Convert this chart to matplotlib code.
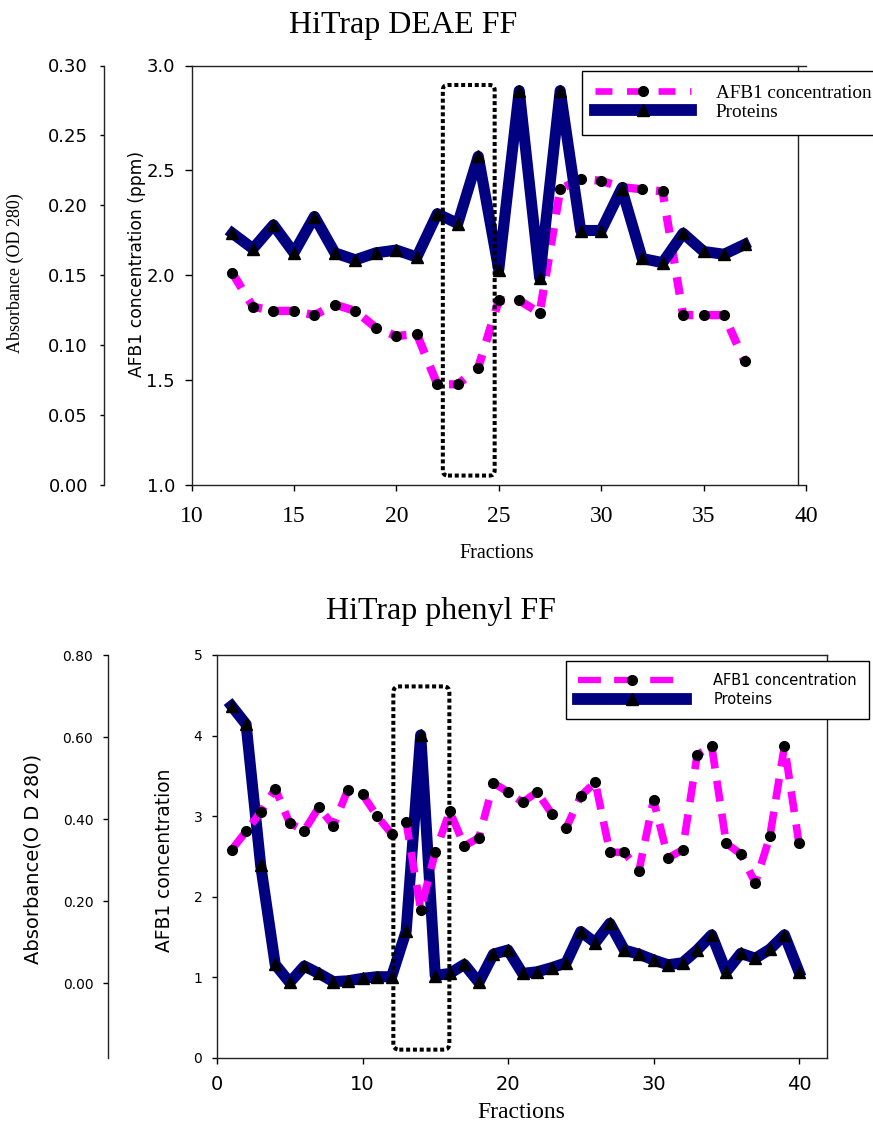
import matplotlib
matplotlib.use("Agg")
import matplotlib.pyplot as plt
from matplotlib.patches import FancyBboxPatch
from matplotlib.lines import Line2D

plt.rcParams['lines.scale_dashes'] = False

W, H = 873, 1126
fig = plt.figure(figsize=(W / 100, H / 100), dpi=100)


def fx(px):
    return px / W


def fy(py):
    return 1 - py / H


SERIF = 'Liberation Serif'
SANS = 'DejaVu Sans'
PINK = '#FF00FF'
NAVY = '#000080'

# ---------------- data ----------------
deae_fractions = list(range(12, 38))
deae_afb1 = [2.01, 1.85, 1.83, 1.83, 1.81, 1.86, 1.83, 1.75, 1.71, 1.72,
             1.48, 1.48, 1.56, 1.88, 1.88, 1.82, 2.41, 2.46, 2.45, 2.42,
             2.41, 2.40, 1.81, 1.81, 1.81, 1.59]
deae_protein = [0.180, 0.169, 0.186, 0.166, 0.192, 0.166, 0.161, 0.166, 0.168,
                0.163, 0.194, 0.187, 0.235, 0.154, 0.282, 0.148, 0.282, 0.182,
                0.182, 0.212, 0.162, 0.159, 0.180, 0.167, 0.165, 0.172]

phenyl_fractions = list(range(1, 41))
phenyl_afb1 = [2.58, 2.81, 3.05, 3.34, 2.91, 2.82, 3.11, 2.88, 3.33, 3.27,
               3.00, 2.78, 2.93, 1.84, 2.55, 3.06, 2.63, 2.73, 3.41, 3.30,
               3.17, 3.30, 3.03, 2.85, 3.25, 3.42, 2.55, 2.55, 2.32, 3.20,
               2.48, 2.58, 3.76, 3.87, 2.66, 2.53, 2.17, 2.75, 3.87, 2.66]
phenyl_protein = [0.676, 0.631, 0.288, 0.046, 0.002, 0.042, 0.024, 0.004, 0.006,
                  0.012, 0.016, 0.016, 0.127, 0.605, 0.019, 0.024, 0.046, 0.002,
                  0.071, 0.081, 0.024, 0.028, 0.038, 0.050, 0.126, 0.099, 0.146,
                  0.081, 0.071, 0.057, 0.045, 0.050, 0.081, 0.118, 0.028, 0.073,
                  0.061, 0.083, 0.118, 0.028]

series_labels = ['AFB1 concentration', 'Proteins']

deae_xticks = [10, 15, 20, 25, 30, 35, 40]
deae_conc_ticks = [1.0, 1.5, 2.0, 2.5, 3.0]
deae_abs_ticks = [0.00, 0.05, 0.10, 0.15, 0.20, 0.25, 0.30]

phenyl_xticks = [0, 10, 20, 30, 40]
phenyl_conc_ticks = [0, 1, 2, 3, 4, 5]
phenyl_abs_ticks = [0.00, 0.20, 0.40, 0.60, 0.80]


def style_axes(ax, axa, abs_offset):
    for s in ('top', 'bottom', 'right'):
        axa.spines[s].set_visible(False)
    axa.spines['left'].set_visible(True)
    axa.spines['left'].set_position(('axes', abs_offset))
    axa.yaxis.set_ticks_position('left')
    axa.yaxis.set_label_position('left')
    for sp in list(ax.spines.values()) + [axa.spines['left']]:
        sp.set_linewidth(1.0)
        sp.set_color('#222222')


# ================= HiTrap DEAE FF =================
ax1 = fig.add_axes([fx(191.5), fy(485), fx(806) - fx(191.5), (485 - 65.5) / H])
ax1a = ax1.twinx()
style_axes(ax1, ax1a, (104 - 191.5) / (806 - 191.5))
ax1.spines['right'].set_position(('data', 39.6))

ax1.set_xlim(10, 40)
ax1.set_ylim(1, 3)
ax1a.set_ylim(0, 0.30)

ax1.tick_params(axis='x', direction='out', length=4.3, width=1, pad=11,
                labelfontfamily=SERIF, labelsize=17)
ax1.tick_params(axis='y', direction='out', length=5, width=1, pad=6.8,
                labelfontfamily=SANS, labelsize=13)
ax1a.tick_params(axis='y', direction='out', length=3, width=1, pad=8.6,
                 labelfontfamily=SANS, labelsize=13)
ax1.set_xticks(deae_xticks, [str(t) for t in deae_xticks])
ax1.set_yticks(deae_conc_ticks, [f'{t:.1f}' for t in deae_conc_ticks])
ax1a.set_yticks(deae_abs_ticks, [f'{t:.2f}' for t in deae_abs_ticks])

ax1.plot(deae_fractions, deae_afb1, color=PINK, lw=6, dashes=(12.5, 10),
         dash_capstyle='butt', marker='o', ms=7, mfc='k', mec='k', zorder=3)
ax1a.plot(deae_fractions, deae_protein, color=NAVY, lw=8, solid_joinstyle='round',
          marker='^', ms=8, mfc='k', mec='k', zorder=3)

box1 = FancyBboxPatch((22.27, 1.045), 24.8 - 22.27, 2.907 - 1.045,
                      boxstyle='round,pad=0,rounding_size=0.25',
                      mutation_aspect=20.5 / 209.5, transform=ax1.transData,
                      fill=False, ec='black', lw=2.9, linestyle=(0, (2.9, 2.0)),
                      zorder=6, clip_on=False)
ax1a.add_patch(box1)

h_afb1_top = Line2D([], [], color=PINK, lw=4.8, dashes=(12.2, 10.5), dash_capstyle='butt',
                    marker='o', ms=7, mfc='k', mec='k')
h_prot_top = Line2D([], [], color=NAVY, lw=8.5, marker='^', ms=8, mfc='k', mec='k')
fig.legend([h_afb1_top, h_prot_top], series_labels, loc='upper left',
           bbox_to_anchor=(fx(582), fy(71)), bbox_transform=fig.transFigure,
           borderaxespad=0, fancybox=False, edgecolor='black', framealpha=1,
           prop={'family': SERIF, 'size': 13.8}, handlelength=5.0,
           handletextpad=1.28, labelspacing=0.1, borderpad=0.7, numpoints=1)

fig.text(fx(403), fy(26), 'HiTrap DEAE FF', ha='center', va='center',
         fontfamily=SERIF, fontsize=23)
fig.text(fx(15), fy(273), 'Absorbance (OD 280)', ha='center', va='center',
         rotation=90, fontfamily=SERIF, fontsize=13)
fig.text(fx(137), fy(264), 'AFB1 concentration (ppm)', ha='center', va='center',
         rotation=90, fontfamily=SANS, fontsize=12.3)
fig.text(fx(497), fy(553), 'Fractions', ha='center', va='center',
         fontfamily=SERIF, fontsize=14.5)

# ================= HiTrap phenyl FF =================
ax2 = fig.add_axes([fx(217), fy(1057.7), fx(827) - fx(217), (1057.7 - 655) / H])
ax2a = ax2.twinx()
style_axes(ax2, ax2a, (108 - 217) / (827 - 217))
ax2.set_zorder(ax2a.get_zorder() + 1)
ax2.patch.set_visible(False)

ax2.set_xlim(0, (827 - 217) / 14.55)
ax2.set_ylim(0, 5)
ax2a.set_ylim(-0.1813, 0.80)

ax2.tick_params(axis='x', direction='out', length=4.3, width=1, pad=8,
                labelfontfamily=SANS, labelsize=14)
ax2.tick_params(axis='y', direction='out', length=3.6, width=1, pad=7,
                labelfontfamily=SANS, labelsize=10)
ax2a.tick_params(axis='y', direction='out', length=3.6, width=1, pad=7,
                 labelfontfamily=SANS, labelsize=10)
ax2.set_xticks(phenyl_xticks, [str(t) for t in phenyl_xticks])
ax2.set_yticks(phenyl_conc_ticks, [str(t) for t in phenyl_conc_ticks])
ax2a.set_yticks(phenyl_abs_ticks, [f'{t:.2f}' for t in phenyl_abs_ticks])

ax2a.plot(phenyl_fractions, phenyl_protein, color=NAVY, lw=8, solid_joinstyle='round',
          marker='^', ms=8, mfc='k', mec='k', zorder=3)
ax2.plot(phenyl_fractions, phenyl_afb1, color=PINK, lw=5.5, dashes=(15, 9),
         dash_capstyle='butt', marker='o', ms=7, mfc='k', mec='k', zorder=3)

box2 = FancyBboxPatch((12.12, 0.10), 15.97 - 12.12, 4.61 - 0.10,
                      boxstyle='round,pad=0,rounding_size=0.41',
                      mutation_aspect=14.55 / 80.5, transform=ax2.transData,
                      fill=False, ec='black', lw=2.9, linestyle=(0, (2.9, 2.0)),
                      zorder=6, clip_on=False)
ax2.add_patch(box2)

h_afb1_bot = Line2D([], [], color=PINK, lw=4.5, dashes=(16.5, 9.5), dash_capstyle='butt',
                    marker='o', ms=7, mfc='k', mec='k')
h_prot_bot = Line2D([], [], color=NAVY, lw=8.5, marker='^', ms=8, mfc='k', mec='k')
fig.legend([h_afb1_bot, h_prot_bot], series_labels, loc='upper left',
           bbox_to_anchor=(fx(566), fy(661)), bbox_transform=fig.transFigure,
           borderaxespad=0, fancybox=False, edgecolor='black', framealpha=1,
           prop={'family': SANS, 'size': 10.5}, handlelength=7.4,
           handletextpad=1.9, labelspacing=0.3, borderpad=0.8, numpoints=1)

fig.text(fx(441), fy(612), 'HiTrap phenyl FF', ha='center', va='center',
         fontfamily=SERIF, fontsize=23)
fig.text(fx(33), fy(859), 'Absorbance(O D 280)', ha='center', va='center',
         rotation=90, fontfamily=SANS, fontsize=14)
fig.text(fx(165), fy(860), 'AFB1 concentration', ha='center', va='center',
         rotation=90, fontfamily=SANS, fontsize=13.4)
fig.text(fx(521), fy(1113), 'Fractions', ha='center', va='center',
         fontfamily=SERIF, fontsize=17)

fig.savefig('out.png', dpi=100)
